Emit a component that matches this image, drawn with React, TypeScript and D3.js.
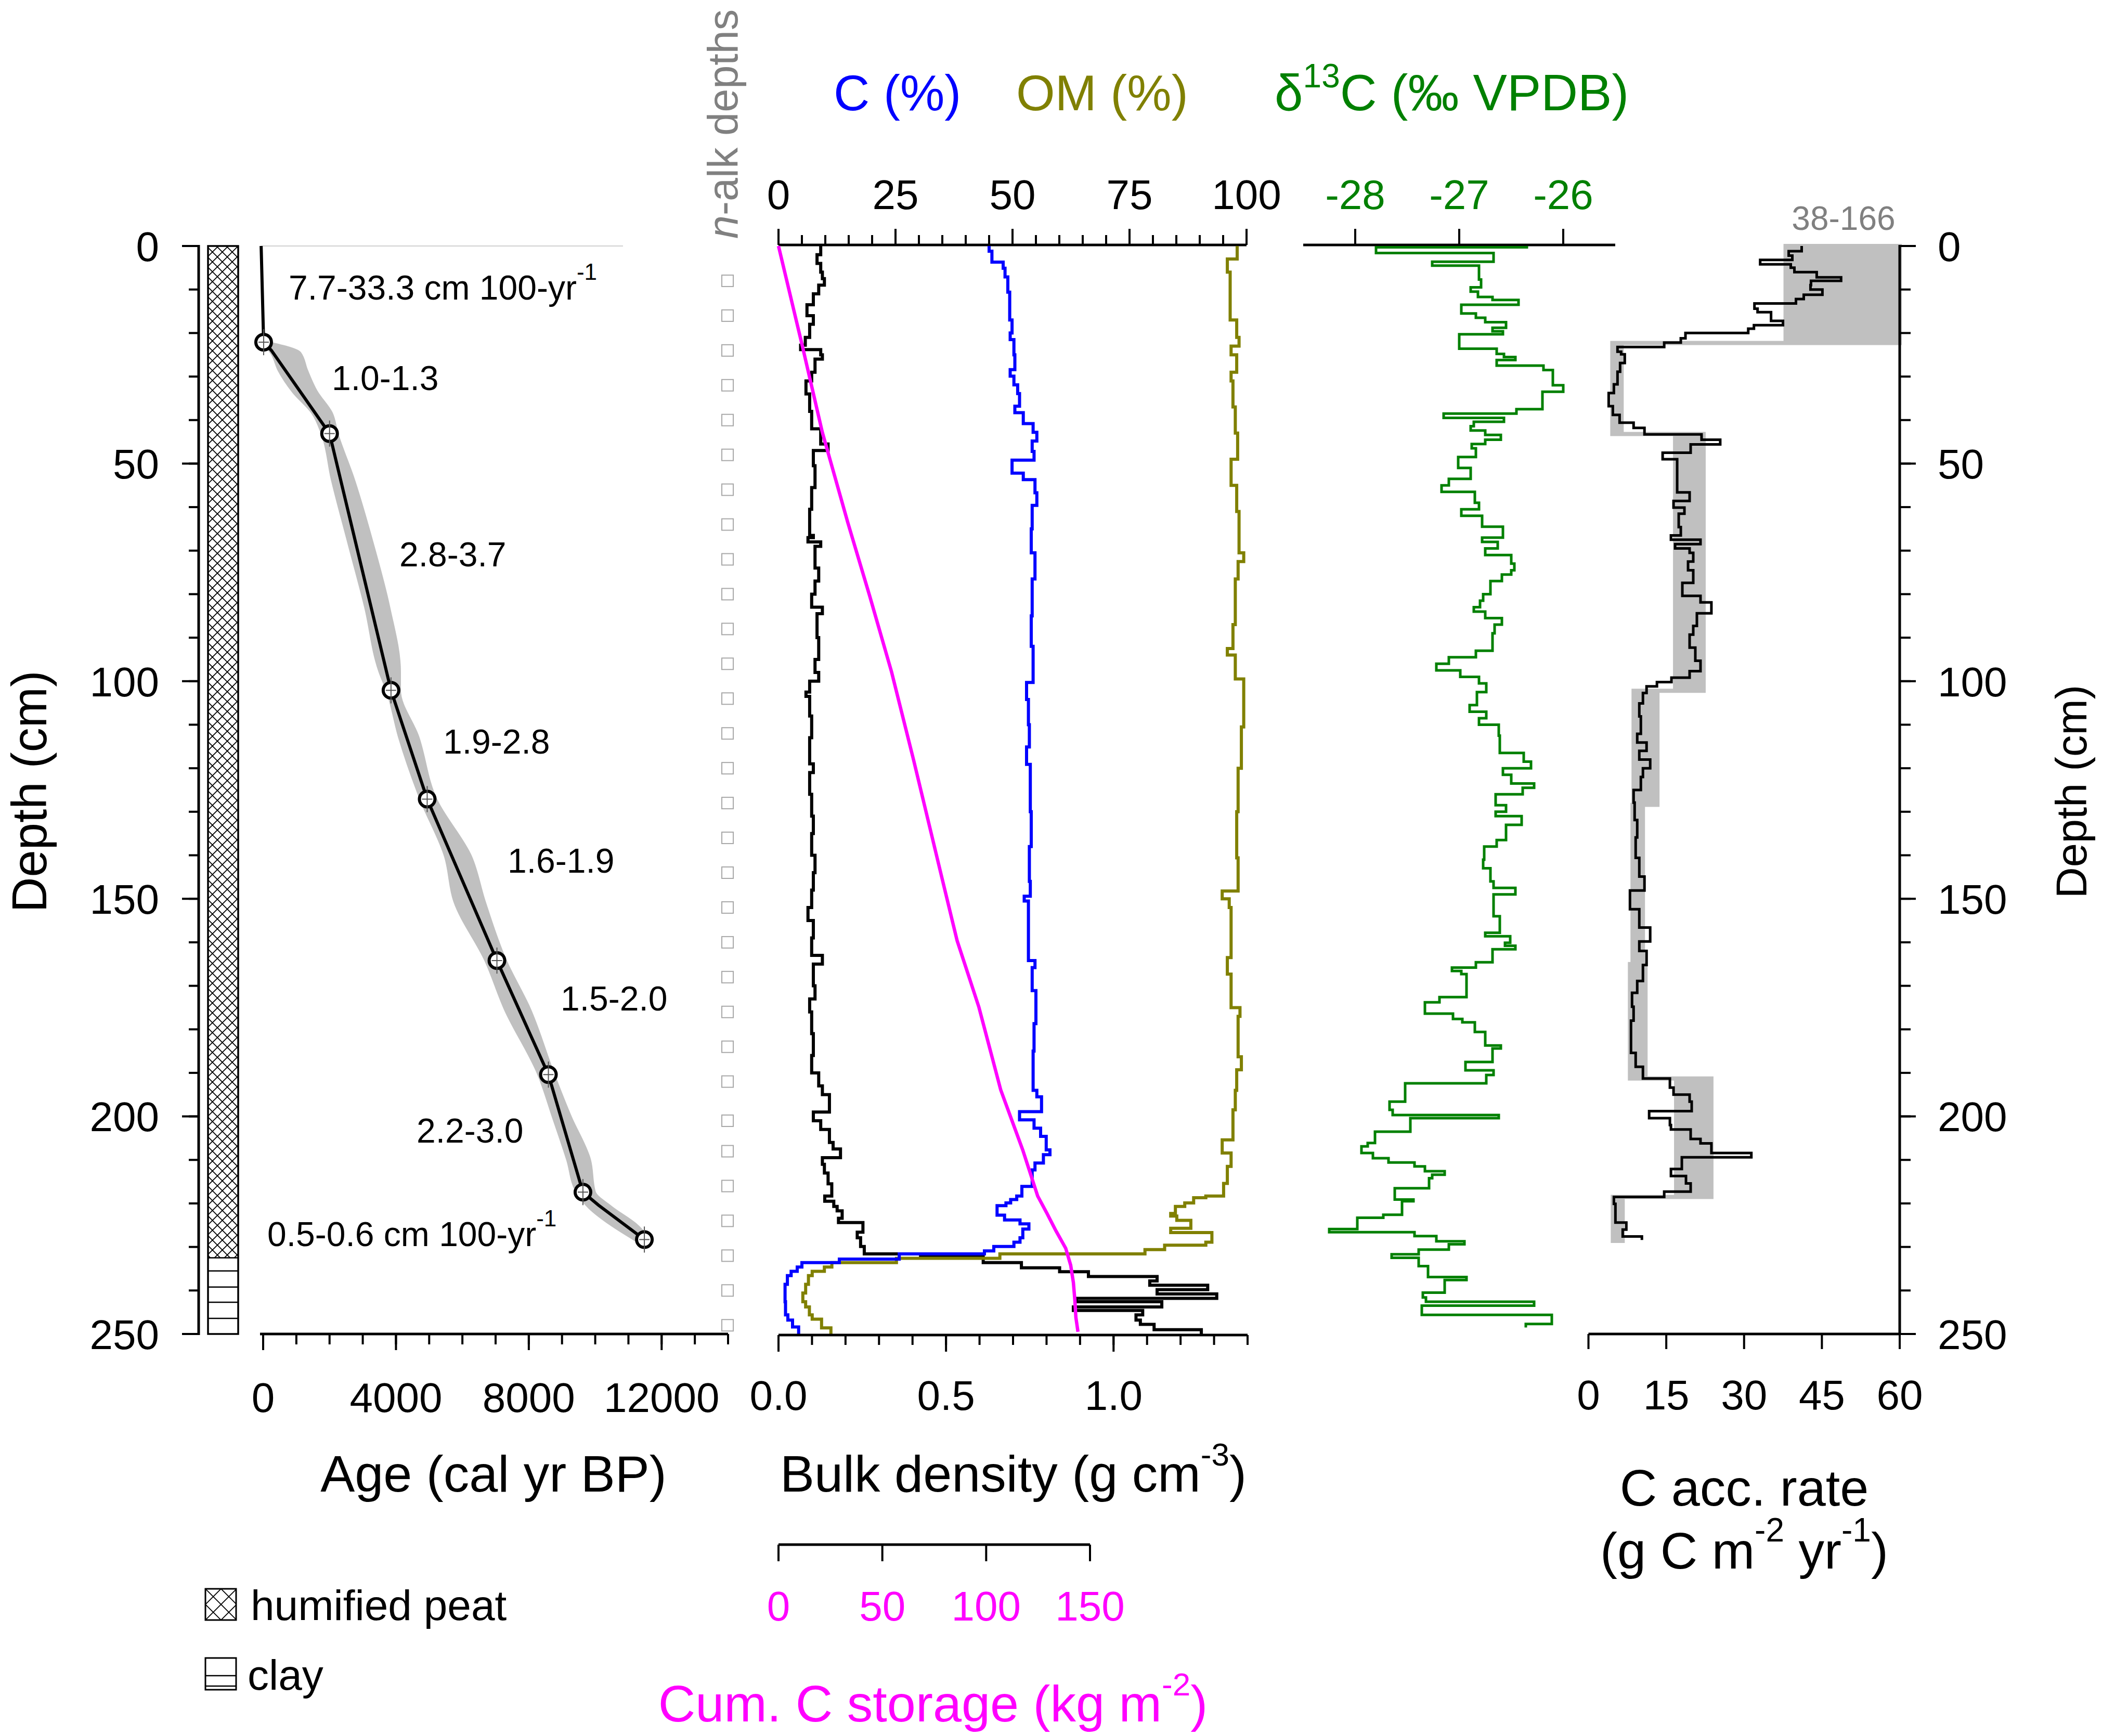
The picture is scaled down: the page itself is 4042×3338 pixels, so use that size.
import * as d3 from 'd3'

const W = 4042
const H = 3338
const FONT = '"Liberation Sans", Arial, Helvetica, sans-serif'
const GREEN = '#008000'
const OLIVE = '#808000'
const BLUE = '#0000ff'
const MAGENTA = '#ff00ff'
const GREY = '#808080'
const BAND = '#c0c0c0'

// ---- data ---------------------------------------------------------------

// age-depth model
const datedDepths = [22.1, 43.1, 102.1, 127.1, 164.2, 190.4, 217.4, 228.3]
const datedAges = [15, 2000, 3850, 4940, 7040, 8590, 9630, 11480]
const modelDepths = [0, 22.1, 24, 43.1, 102.1, 127.1, 164.2, 190.4, 217.4, 220.4, 228.3]
const modelAges = [-60, 15, 250, 2000, 3850, 4940, 7040, 8590, 9630, 10100, 11480]
const bandDepths = [22.1, 24.6, 28.5, 33.5, 38.4, 43.1, 53.3, 68.2, 83, 97.9, 102.1, 112.7, 127.1, 140.4, 150.5, 164.2, 175.3, 190.4, 200.1, 210, 217.4, 220.9, 224.8, 228.3]
const bandLo = [0, 263, 480, 915, 1500, 1784, 2074, 2581, 3089, 3523, 3740, 4103, 4755, 5500, 5769, 6711, 7291, 8305, 8740, 9174, 9464, 9826, 10478, 11203]
const bandHi = [40, 1100, 1300, 1600, 2050, 2219, 2700, 3280, 3780, 4103, 4103, 4650, 5190, 6250, 6650, 7291, 8015, 8740, 9247, 9826, 9971, 10478, 11203, 11638]
const rateLabels = ['7.7-33.3 cm 100-yr', '1.0-1.3', '2.8-3.7', '1.9-2.8', '1.6-1.9', '1.5-2.0', '2.2-3.0', '0.5-0.6 cm 100-yr']
const rateHasUnit = [true, false, false, false, false, false, false, true]

// lithology
const peatBottom = 232.5
const clayLines = [235.5, 239.2, 242.7, 246.4]

// n-alkane sample depths
const nAlkDepths = [8, 16, 24, 32, 40, 48, 56, 64, 72, 80, 88, 96, 104, 112, 120, 128, 136, 144, 152, 160, 168, 176, 184, 192, 201, 208, 216, 224, 232, 240, 248]

// [top depth cm, value]
const bulkDensity: [number, number][] = [
  [0, 0.126], [2, 0.115], [4, 0.126], [6, 0.131], [7.5, 0.137], [9, 0.12], [11, 0.104], [13.5, 0.085], [16, 0.104], [18, 0.093],
  [21, 0.08], [22.8, 0.066], [23.8, 0.126], [25, 0.131], [26, 0.109], [29, 0.099], [31, 0.082], [34, 0.093], [38, 0.099], [42, 0.126],
  [45.5, 0.148], [47, 0.104], [50.5, 0.109], [55.5, 0.099], [60.5, 0.093], [66.5, 0.104], [67, 0.088], [68, 0.126], [69, 0.109], [74, 0.12],
  [77, 0.109], [80, 0.099], [83, 0.131], [84.5, 0.115], [90, 0.12], [95, 0.109], [98, 0.12], [100, 0.093], [102.5, 0.082], [103.5, 0.093],
  [108, 0.099], [113, 0.093], [119, 0.104], [121, 0.093], [126, 0.099], [131, 0.104], [135, 0.099], [140, 0.109], [144, 0.104], [148, 0.099],
  [152, 0.088], [155, 0.104], [159, 0.099], [163, 0.131], [165, 0.104], [170, 0.109], [173, 0.093], [176, 0.099], [181, 0.104], [186, 0.099],
  [190, 0.12], [193, 0.131], [195, 0.152], [199, 0.104], [201, 0.126], [203, 0.152], [206, 0.163], [207.5, 0.185], [209.5, 0.131], [211, 0.137],
  [213, 0.148], [215.5, 0.159], [218.3, 0.138], [219.5, 0.165], [220.7, 0.175], [221.7, 0.19], [223.4, 0.179], [224.4, 0.252], [226.6, 0.235], [227.9, 0.245],
  [229.9, 0.256], [231.6, 0.424], [232.2, 0.611], [233.6, 0.725], [234.8, 0.839], [235.7, 0.925], [236.8, 1.13], [237.8, 1.108], [238.8, 1.281], [239.8, 1.13],
  [240.8, 1.308], [241.8, 0.889], [242.6, 1.144], [243.8, 0.88], [244.6, 1.087], [245.6, 1.067], [246.8, 1.08], [247.8, 1.121], [249, 1.262],
]
const carbonPct: [number, number][] = [
  [0, 45.0], [1.2, 45.6], [3.7, 48.0], [5.1, 48.4], [7.1, 49.0], [10.6, 49.4], [17, 49.9], [20, 49.5], [21.5, 50.3], [25, 50.5],
  [28.4, 49.5], [29.9, 50.3], [31.9, 51.1], [33.9, 51.5], [36.8, 50.5], [38.3, 52.3], [40.8, 54.4], [42.8, 55.2], [44.8, 54.2], [47.2, 54.6],
  [49.2, 49.9], [52.2, 52.3], [53.7, 54.8], [56.7, 55.2], [59.6, 54.2], [65, 54.0], [70.5, 54.8], [76.5, 54.2], [85, 54.0], [92, 54.4],
  [100.3, 53.0], [104.2, 53.4], [110, 53.6], [115.1, 53.0], [119.1, 53.8], [130, 54.0], [138, 53.6], [146, 53.8], [149.4, 52.5], [150.5, 53.4],
  [164.2, 54.8], [165.8, 54.2], [171.1, 55.0], [178.7, 54.6], [185, 54.4], [194, 55.2], [195.5, 56.2], [198.9, 51.5], [200.8, 54.6], [202.7, 56.0],
  [204.6, 57.2], [207.7, 58.0], [208.8, 56.6], [210.7, 54.8], [212.3, 54.2], [216.1, 52.0], [218.3, 50.9], [219.1, 49.6], [219.9, 48.6], [220.5, 46.7],
  [222.7, 48.3], [223.8, 51.6], [224.7, 53.5], [225.9, 52.2], [227.9, 51.6], [228.9, 50.3], [229.9, 46.0], [230.9, 44.0], [231.6, 25.8], [232.8, 13.0],
  [233.6, 5.0], [234.6, 4.0], [235.6, 2.7], [236.6, 1.9], [238.6, 1.4], [242.6, 1.5], [245.6, 2.0], [246.8, 3.0], [248.4, 4.3],
]
const organicPct: [number, number][] = [
  [0, 98.0], [3, 95.9], [6, 96.5], [17, 97.9], [21, 98.4], [23, 96.7], [25, 97.9], [29, 96.7], [31, 97.1], [37, 97.6],
  [43, 98.1], [49, 96.7], [55, 97.9], [61, 98.4], [70.5, 99.4], [72.5, 98.2], [76.5, 97.6], [87, 97.1], [92.5, 95.9], [94, 97.6],
  [99.5, 99.4], [110.5, 98.9], [120, 98.2], [130, 97.9], [140.6, 98.2], [148.2, 94.8], [150, 96.3], [152, 96.7], [163.5, 95.9], [167.3, 96.7],
  [175, 98.6], [177, 98.2], [186.3, 98.9], [189.3, 97.9], [194, 97.6], [198.5, 97.1], [205.4, 94.8], [208.4, 96.7], [211.5, 95.9], [215.4, 95.1],
  [218.3, 91.3], [218.7, 88.7], [219.9, 86.8], [220.7, 84.8], [222.3, 83.8], [222.9, 85.1], [223.9, 88.1], [225.7, 83.8], [226.7, 92.6], [228.9, 91.3],
  [229.6, 82.5], [230.6, 78.3], [231.6, 47.3], [232.6, 25.2], [233.6, 11.4], [234.6, 9.8], [235.6, 7.2], [236.6, 6.4], [238.6, 5.8], [240.6, 5.2],
  [242.6, 5.8], [243.8, 6.6], [245.6, 7.2], [246.6, 9.2], [248.6, 11.2],
]
const cumCarbon: [number, number][] = [
  [0, 0], [23, 11.5], [42.8, 21.1], [63.6, 33.4], [80.4, 43.9], [97.8, 54.4], [118, 65], [145.8, 79], [159.6, 86], [174.9, 96.5],
  [193.9, 107], [207.7, 117.6], [218.3, 124.8], [222.3, 129.3], [226.3, 133.6], [230.3, 138.3], [234.2, 140.7], [238.2, 142], [242.2, 142.7], [246.2, 143.2], [249.5, 144.2],
]
const d13C: [number, number][] = [
  [0, -26.35], [0.3, -27.8], [1.6, -26.67], [3.6, -27.26], [4.5, -26.81], [7.7, -26.79], [9.5, -26.89], [10.5, -26.82], [11.7, -26.68], [12.4, -26.43],
  [13.5, -26.98], [15.5, -26.84], [16.5, -26.75], [17.5, -26.55], [18.8, -26.68], [19.6, -26.58], [20.3, -27.0], [23.6, -26.64], [24.8, -26.57], [25.5, -26.46],
  [26.2, -26.64], [27.5, -26.19], [28.5, -26.1], [32, -26.0], [33.5, -26.2], [37.5, -26.45], [38.5, -27.15], [39.5, -26.57], [40.4, -26.86], [41.4, -26.89],
  [42.4, -26.75], [43.4, -26.6], [44.5, -26.75], [45.5, -26.88], [46.5, -26.84], [48.5, -27.01], [51, -26.89], [53.5, -27.1], [55, -27.17], [56.5, -26.85],
  [59, -26.81], [60.5, -26.98], [62, -26.78], [64.5, -26.58], [67, -26.78], [68, -26.63], [69.5, -26.75], [71, -26.5], [73, -26.47], [74.5, -26.5],
  [75.5, -26.59], [77, -26.7], [80, -26.77], [81.5, -26.8], [83, -26.86], [84, -26.75], [85.5, -26.59], [87, -26.66], [89, -26.68], [93, -26.84],
  [94.5, -27.1], [96, -27.22], [97.5, -26.99], [99, -26.81], [100.5, -26.74], [102.5, -26.83], [105.5, -26.9], [107, -26.74], [108.5, -26.81], [110, -26.62],
  [112.5, -26.61], [116.5, -26.38], [118.5, -26.31], [120, -26.58], [121.5, -26.5], [123.5, -26.28], [124.5, -26.39], [126, -26.65], [128.5, -26.55], [130, -26.65],
  [131, -26.4], [133, -26.55], [136.5, -26.64], [138, -26.76], [141, -26.77], [143, -26.7], [146, -26.67], [147.5, -26.46], [149, -26.67], [154, -26.61],
  [157.8, -26.75], [158.6, -26.51], [160.1, -26.56], [160.8, -26.46], [161.6, -26.68], [164.6, -26.84], [165.8, -27.07], [166.6, -26.98], [167.3, -26.93], [172.6, -27.19],
  [173.8, -27.33], [176.4, -27.06], [177.6, -26.97], [178.4, -26.85], [180.6, -26.75], [183.7, -26.6], [184.4, -26.68], [187.5, -26.94], [189.4, -26.67], [190.5, -26.74],
  [192.4, -27.52], [196.6, -27.67], [198.5, -27.64], [199.7, -26.62], [200.4, -27.47], [203.5, -27.81], [206.1, -27.88], [206.9, -27.94], [208.4, -27.83], [209.6, -27.68],
  [210.6, -27.43], [211.5, -27.33], [212.6, -27.14], [213.4, -27.26], [214.2, -27.29], [216.5, -27.62], [219.1, -27.44], [219.5, -27.55], [222.6, -27.73], [223.3, -27.98],
  [225.9, -28.25], [226.6, -27.43], [227.5, -27.22], [228.7, -26.95], [229.4, -27.1], [230.6, -27.39], [231.7, -27.65], [232.5, -27.39], [234.4, -27.3], [236.9, -26.93],
  [237.6, -27.14], [240.5, -27.35], [241.6, -27.32], [242.6, -26.28], [243.5, -27.36], [245.6, -26.11], [247.7, -26.36],
]
const d13CBottom = 248.5
const cAccRate: [number, number][] = [
  [0, 41.1], [1.2, 38.6], [2.2, 39.3], [3.2, 33.1], [4.2, 39.0], [5.0, 39.7], [6.0, 44.0], [7.2, 48.7], [8.0, 42.9], [9.0, 42.8],
  [10.0, 45.1], [11.2, 41.5], [12.2, 40.0], [13.2, 32.0], [14.4, 32.6], [15.2, 35.2], [17.2, 37.5], [18.2, 31.9], [19.0, 30.8], [20.0, 18.7],
  [21.2, 17.8], [22.2, 14.6], [23.2, 5.6], [24.3, 6.3], [24.9, 7.0], [26.9, 6.1], [28.9, 5.6], [31.8, 4.9], [33.8, 3.9], [36.8, 4.7],
  [38.8, 6.0], [40.6, 8.7], [41.8, 10.8], [43.3, 21.8], [44.5, 25.4], [45.6, 19.7], [47.5, 14.3], [49.0, 17.1], [56.6, 19.5], [58.6, 16.4],
  [60.1, 18.5], [61.5, 17.4], [64.6, 17.8], [66.5, 15.9], [67.5, 21.6], [68.5, 16.7], [69.5, 19.5], [70.5, 20.2], [72.5, 19.2], [74.5, 20.2],
  [77.4, 18.1], [80.4, 21.6], [81.9, 23.7], [84.4, 20.9], [87.3, 20.2], [89.3, 19.5], [92.3, 20.6], [95.3, 21.6], [97.7, 19.5], [99.2, 16.0],
  [100.2, 13.2], [101.2, 11.2], [102.7, 10.5], [105.1, 9.8], [108.1, 10.1], [112.1, 9.4], [114.1, 11.2], [116.0, 9.8], [118.0, 11.9], [120.0, 10.5],
  [122.0, 10.1], [125.0, 8.7], [127.9, 8.9], [131.9, 9.4], [135.9, 9.1], [140.6, 9.8], [144.9, 10.8], [148.1, 8.0], [152.4, 9.8], [156.6, 11.9],
  [159.8, 9.8], [162.0, 11.2], [165.2, 10.5], [168.9, 9.4], [171.6, 8.4], [174.8, 8.7], [178.0, 8.2], [185.4, 9.1], [188.6, 10.5], [191.3, 15.7],
  [193.4, 16.4], [195.0, 19.5], [196.6, 19.9], [198.8, 11.7], [200.4, 15.7], [202.0, 15.9], [203.0, 19.7], [205.2, 21.6], [206.2, 23.7], [208.4, 31.4],
  [209.4, 18.0], [212.1, 15.9], [213.7, 18.8], [215.4, 19.7], [217.3, 14.6], [218.5, 4.9], [220.1, 5.2], [224.4, 7.3], [226.0, 6.6], [227.6, 10.3],
]
const cAccBottom = 228.4
// C accumulation ranges per dated interval: [top, bottom, min, max]
const cAccZones: [number, number, number, number][] = [
  [0, 22.3, 38, 166], [22.3, 43.2, 4.6, 6.4], [43.2, 102.2, 16.7, 22.2], [102.2, 128.4, 8.7, 13.3],
  [128.4, 165, 8.5, 10.5], [165, 191.3, 8.0, 11.0], [191.3, 218.5, 16.9, 23.7], [218.5, 228.6, 4.7, 6.6],
]

// tick labels
const depthTicks = [0, 50, 100, 150, 200, 250]
const ageTicks = [0, 4000, 8000, 12000]
const pctTicks = [0, 25, 50, 75, 100]
const d13Ticks = [-28, -27, -26]
const bdTicks = [0, 0.5, 1.0]
const cumTicks = [0, 50, 100, 150]
const accTicks = [0, 15, 30, 45, 60]

// ---- layout ---------------------------------------------------------------

const Y_TOP = 473
const Y_BOT = 2565
const y = d3.scaleLinear().domain([0, 250]).range([Y_TOP, Y_BOT])
const xAge = d3.scaleLinear().domain([0, 14000]).range([506, 1400])
const xPct = d3.scaleLinear().domain([0, 100]).range([1497, 2397])
const xBD = d3.scaleLinear().domain([0, 1.4]).range([1497, 2399])
const xCum = d3.scaleLinear().domain([0, 150]).range([1497, 2096])
const xD13 = d3.scaleLinear().domain([-28.5, -25.5]).range([2506, 3106])
const xAcc = d3.scaleLinear().domain([0, 60]).range([3054.5, 3653])

const LEFT_AXIS_X = 382
const RIGHT_AXIS_X = 3653
const CUM_AXIS_Y = 2970
const LITH_X0 = 400
const LITH_X1 = 458
const NALK_X = 1399

// label anchors for the sedimentation-rate annotations [x px, baseline px]
const ratePos: [number, number][] = [[555, 576], [638, 750], [768, 1089], [852, 1449], [976, 1678], [1078, 1943], [801, 2197], [514, 2396]]

function stepPath(data: [number, number][], bottom: number, x: d3.ScaleLinear<number, number>) {
  const pts: [number, number][] = [...data, [bottom, data[data.length - 1][1]]]
  return d3.line<[number, number]>()
    .x(d => x(d[1]))
    .y(d => y(d[0]))
    .curve(d3.curveStepBefore)(pts) || ''
}

function ticksLines(vals: number[], pos: (v: number) => number, horizontal: boolean, base: number, len: number, sw = 4) {
  return vals.map((v, i) => horizontal
    ? <line key={i} x1={pos(v)} x2={pos(v)} y1={base} y2={base + len} stroke="#000" strokeWidth={sw} />
    : <line key={i} y1={pos(v)} y2={pos(v)} x1={base} x2={base + len} stroke="#000" strokeWidth={sw} />)
}

export default function App() {
  const minorDepth = d3.range(0, 251, 10)
  const minorAge = d3.range(0, 14001, 1000)
  const minorPct = d3.range(0, 101, 5)
  const minorBD = d3.range(0, 1.401, 0.1)

  const band = d3.area<number>()
    .y(i => y(bandDepths[i]))
    .x0(i => xAge(bandLo[i]))
    .x1(i => xAge(bandHi[i]))
    .curve(d3.curveMonotoneY)(d3.range(bandDepths.length)) || ''
  const model = d3.line<number>()
    .x(i => xAge(modelAges[i]))
    .y(i => y(modelDepths[i]))(d3.range(modelDepths.length)) || ''
  const cumLine = d3.line<[number, number]>()
    .x(d => xCum(d[1]))
    .y(d => y(d[0]))(cumCarbon) || ''

  // stepped range polygon for C accumulation
  const lo: [number, number][] = []
  const hi: [number, number][] = []
  cAccZones.forEach(([t, b, mn, mx]) => {
    lo.push([xAcc(mn), y(t)], [xAcc(mn), y(b)])
    hi.push([xAcc(Math.min(mx, 60)), y(t)], [xAcc(Math.min(mx, 60)), y(b)])
  })
  const zonePoly = d3.line()([...lo, ...hi.reverse()]) + 'Z'

  return (
    <svg width={W} height={H} viewBox={`0 0 ${W} ${H}`}
      style={{ position: 'absolute', left: 0, top: 0, background: '#fff' }} fontFamily={FONT}>
      <defs>
        <pattern id="xh" width="19" height="19" patternUnits="userSpaceOnUse">
          <path d="M0,0L19,19M19,0L0,19" stroke="#000" strokeWidth="1.8" />
        </pattern>
        <pattern id="xhL" width="30" height="30" patternUnits="userSpaceOnUse" x="395" y="3055">
          <path d="M0,0L30,30M30,0L0,30" stroke="#000" strokeWidth="1.8" />
        </pattern>
      </defs>
      <rect width={W} height={H} fill="#fff" />

      {/* ---------- left depth axis ---------- */}
      <line x1={LEFT_AXIS_X} x2={LEFT_AXIS_X} y1={y(0) - 2} y2={y(250) + 2} stroke="#000" strokeWidth={5} />
      {ticksLines(minorDepth, y, false, LEFT_AXIS_X, -19)}
      {ticksLines(depthTicks, y, false, LEFT_AXIS_X, -32)}
      {depthTicks.map(d => (
        <text key={d} x={306} y={y(d)} dy="0.36em" textAnchor="end" fontSize={80}>{d}</text>
      ))}
      <text transform={`translate(89,1522) rotate(-90)`} textAnchor="middle" fontSize={94}>Depth (cm)</text>

      {/* ---------- lithology ---------- */}
      <rect x={LITH_X0} y={y(0)} width={LITH_X1 - LITH_X0} height={y(peatBottom) - y(0)} fill="url(#xh)" />
      {clayLines.map(d => (
        <line key={d} x1={LITH_X0} x2={LITH_X1} y1={y(d)} y2={y(d)} stroke="#000" strokeWidth={2.5} />
      ))}
      <line x1={LITH_X0} x2={LITH_X1} y1={y(peatBottom)} y2={y(peatBottom)} stroke="#000" strokeWidth={2.5} />
      <rect x={LITH_X0} y={y(0)} width={LITH_X1 - LITH_X0} height={y(250) - y(0)} fill="none" stroke="#000" strokeWidth={3.5} />

      {/* ---------- age-depth panel ---------- */}
      <line x1={xAge(-60)} x2={1198} y1={y(0)} y2={y(0)} stroke="#d0d0d0" strokeWidth={2} />
      <path d={band} fill={BAND} stroke={BAND} strokeWidth={6} strokeLinejoin="round" />
      <path d={model} fill="none" stroke="#000" strokeWidth={6} />
      {datedDepths.map((d, i) => (
        <g key={i}>
          <circle cx={xAge(datedAges[i])} cy={y(d)} r={15} fill="#fff" stroke="#000" strokeWidth={6} />
          <line x1={xAge(datedAges[i])} x2={xAge(datedAges[i])} y1={y(d - 3)} y2={y(d + 3)} stroke="#555" strokeWidth={2} />
          <line x1={xAge(datedAges[i]) - 10} x2={xAge(datedAges[i]) + 10} y1={y(d)} y2={y(d)} stroke="#555" strokeWidth={2} />
        </g>
      ))}
      {rateLabels.map((t, i) => (
        <text key={i} x={ratePos[i][0]} y={ratePos[i][1]} fontSize={66}>
          {t}
          {rateHasUnit[i] && <tspan dy={-38} fontSize={44}>-1</tspan>}
        </text>
      ))}
      <line x1={xAge(0) - 6} x2={xAge(14000)} y1={Y_BOT} y2={Y_BOT} stroke="#000" strokeWidth={5} />
      {ticksLines(minorAge, xAge, true, Y_BOT, 20)}
      {ticksLines(ageTicks, xAge, true, Y_BOT, 31)}
      {ageTicks.map(a => (
        <text key={a} x={xAge(a)} y={2715} textAnchor="middle" fontSize={80}>{a}</text>
      ))}
      <text x={949} y={2868} textAnchor="middle" fontSize={99}>Age (cal yr BP)</text>

      {/* ---------- n-alkane depths ---------- */}
      <text transform={`translate(1418,459) rotate(-90)`} fontSize={81} fill={GREY}>
        <tspan fontStyle="italic">n</tspan>-alk depths
      </text>
      {nAlkDepths.map(d => (
        <rect key={d} x={NALK_X - 11} y={y(d) - 11} width={22} height={22} fill="#fff" stroke="#a8a8a8" strokeWidth={2} />
      ))}

      {/* ---------- C / OM / BD / cum C panel ---------- */}
      <text x={1603} y={212} fill={BLUE} fontSize={96}>C (%)</text>
      <text x={1954} y={212} fill={OLIVE} fontSize={96}>OM (%)</text>
      <text x={2451} y={212} fill={GREEN} fontSize={98}>δ<tspan dy={-44} fontSize={64}>13</tspan><tspan dy={44}>C (‰ VPDB)</tspan></text>

      <line x1={xPct(0)} x2={xPct(100)} y1={Y_TOP - 2} y2={Y_TOP - 2} stroke="#000" strokeWidth={5} />
      {ticksLines(minorPct, xPct, true, Y_TOP - 2, -19)}
      {ticksLines(pctTicks, xPct, true, Y_TOP - 2, -31)}
      {pctTicks.map(p => (
        <text key={p} x={xPct(p)} y={402} textAnchor="middle" fontSize={80}>{p}</text>
      ))}

      <path d={stepPath(bulkDensity, 250, xBD)} fill="none" stroke="#000" strokeWidth={6} />
      <path d={stepPath(organicPct, 250, xPct)} fill="none" stroke={OLIVE} strokeWidth={6} />
      <path d={stepPath(carbonPct, 250, xPct)} fill="none" stroke={BLUE} strokeWidth={6} />
      <path d={cumLine} fill="none" stroke={MAGENTA} strokeWidth={6.5} />

      <line x1={xBD(0)} x2={xBD(1.4)} y1={Y_BOT + 2} y2={Y_BOT + 2} stroke="#000" strokeWidth={5} />
      {ticksLines(minorBD, xBD, true, Y_BOT + 2, 19)}
      {ticksLines(bdTicks, xBD, true, Y_BOT + 2, 32)}
      {bdTicks.map(b => (
        <text key={b} x={xBD(b)} y={2711} textAnchor="middle" fontSize={80}>{b.toFixed(1)}</text>
      ))}
      <text x={1500} y={2868} fontSize={99}>Bulk density (g cm<tspan dy={-50} fontSize={62}>-3</tspan><tspan dy={50}>)</tspan></text>

      <line x1={xCum(0)} x2={xCum(150)} y1={CUM_AXIS_Y} y2={CUM_AXIS_Y} stroke="#000" strokeWidth={5} />
      {ticksLines(cumTicks, xCum, true, CUM_AXIS_Y, 32)}
      {cumTicks.map(c => (
        <text key={c} x={xCum(c)} y={3116} textAnchor="middle" fontSize={80} fill={MAGENTA}>{c}</text>
      ))}
      <text x={1794} y={3310} textAnchor="middle" fontSize={99} fill={MAGENTA}>Cum. C storage (kg m<tspan dy={-50} fontSize={62}>-2</tspan><tspan dy={50}>)</tspan></text>

      {/* ---------- δ13C panel ---------- */}
      <line x1={xD13(-28.5)} x2={xD13(-25.5)} y1={Y_TOP - 2} y2={Y_TOP - 2} stroke="#000" strokeWidth={5} />
      {ticksLines(d13Ticks, xD13, true, Y_TOP - 2, -31)}
      {d13Ticks.map(v => (
        <text key={v} x={xD13(v)} y={402} textAnchor="middle" fontSize={80} fill={GREEN}>{v}</text>
      ))}
      <path d={stepPath(d13C, d13CBottom, xD13)} fill="none" stroke={GREEN} strokeWidth={5} />

      {/* ---------- C accumulation panel ---------- */}
      <path d={zonePoly} fill={BAND} stroke={BAND} strokeWidth={8} strokeLinejoin="miter" />
      <path d={stepPath(cAccRate, cAccBottom, xAcc)} fill="none" stroke="#000" strokeWidth={5} />
      <text x={3545} y={442} textAnchor="middle" fontSize={64} fill={GREY}>38-166</text>

      <line x1={RIGHT_AXIS_X} x2={RIGHT_AXIS_X} y1={y(0) - 2} y2={y(250) + 2} stroke="#000" strokeWidth={5} />
      {ticksLines(minorDepth, y, false, RIGHT_AXIS_X, 21)}
      {ticksLines(depthTicks, y, false, RIGHT_AXIS_X, 31)}
      {depthTicks.map(d => (
        <text key={d} x={3726} y={y(d)} dy="0.36em" fontSize={80}>{d}</text>
      ))}
      <text transform={`translate(4012,1522) rotate(-90)`} textAnchor="middle" fontSize={83}>Depth (cm)</text>

      <line x1={xAcc(0)} x2={xAcc(60)} y1={Y_BOT} y2={Y_BOT} stroke="#000" strokeWidth={5} />
      {ticksLines(accTicks, xAcc, true, Y_BOT, 29)}
      {accTicks.map(a => (
        <text key={a} x={xAcc(a)} y={2710} textAnchor="middle" fontSize={80}>{a}</text>
      ))}
      <text x={3354} y={2895} textAnchor="middle" fontSize={99}>C acc. rate</text>
      <text x={3354} y={3016} textAnchor="middle" fontSize={99}>(g C m<tspan dy={-52} fontSize={64}>-2</tspan><tspan dy={52}> yr</tspan><tspan dy={-52} fontSize={64}>-1</tspan><tspan dy={52}>)</tspan></text>

      {/* ---------- lithology legend ---------- */}
      <rect x={395} y={3055} width={59} height={60} fill="url(#xhL)" stroke="#000" strokeWidth={3} />
      <text x={482} y={3115} fontSize={82}>humified peat</text>
      <rect x={395} y={3188} width={59} height={61} fill="#fff" stroke="#000" strokeWidth={3} />
      <line x1={395} x2={454} y1={3222} y2={3222} stroke="#000" strokeWidth={2.5} />
      <line x1={395} x2={454} y1={3242} y2={3242} stroke="#000" strokeWidth={2.5} />
      <text x={476} y={3249} fontSize={82}>clay</text>
    </svg>
  )
}
